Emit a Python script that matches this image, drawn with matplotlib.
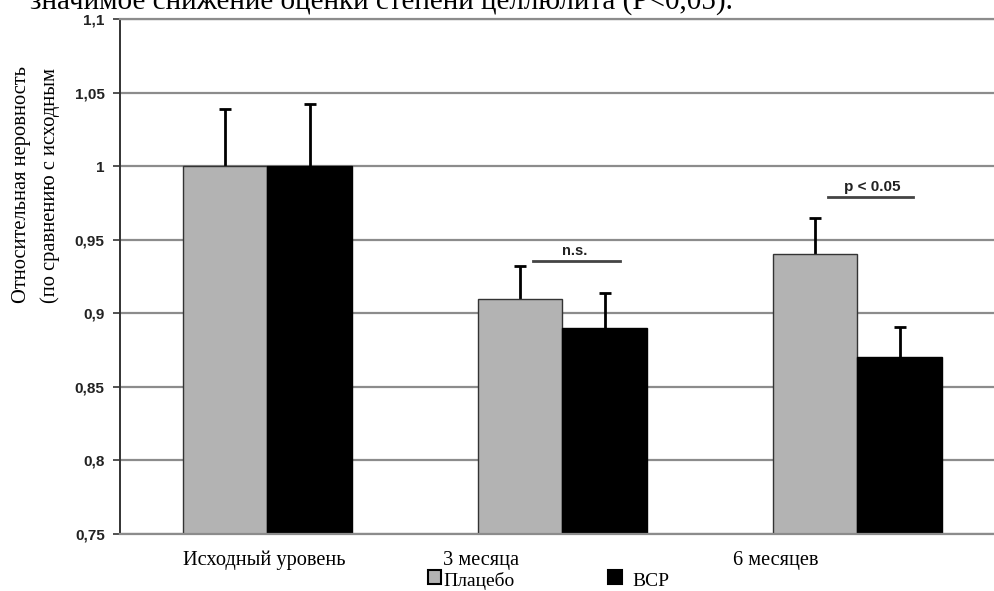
import matplotlib
matplotlib.use('Agg')
import matplotlib.pyplot as plt
from matplotlib.patches import Rectangle
import numpy as np

# Data
categories = ['Исходный уровень', '3 месяца', '6 месяцев']
placebo = [1.0, 0.91, 0.94]
placebo_err = [0.039, 0.022, 0.025]
bcp = [1.0, 0.89, 0.87]
bcp_err = [0.042, 0.024, 0.021]
yticks = [0.75, 0.8, 0.85, 0.9, 0.95, 1.0, 1.05, 1.1]
ytick_labels = ['0,75', '0,8', '0,85', '0,9', '0,95', '1', '1,05', '1,1']

SERIF = ['Liberation Serif', 'DejaVu Serif']
SANS = ['Liberation Sans', 'DejaVu Sans']
GREY = '#b3b3b3'
GRID = '#8c8c8c'

fig = plt.figure(figsize=(9.95, 5.91), dpi=100)
ax = fig.add_axes([120 / 995, 1 - 534 / 591, 885 / 995, 515 / 591])

x = np.arange(len(categories))
w = 0.288

ax.set_ylim(0.75, 1.1)
ax.set_xlim(-0.5, 2.5)
ax.set_yticks(yticks)
ax.set_yticklabels(ytick_labels, family=SANS, fontsize=11, fontweight='bold', color='#222222')
ax.set_xticks([])
ax.yaxis.grid(True, color=GRID, lw=1.6)
ax.set_axisbelow(True)
ax.tick_params(axis='y', direction='out', length=5, width=1.2, color='#333333', pad=6)

for side in ['top', 'right', 'bottom']:
    ax.spines[side].set_color(GRID)
    ax.spines[side].set_linewidth(1.6)
ax.spines['right'].set_visible(False)
ax.spines['left'].set_color('#333333')
ax.spines['left'].set_linewidth(1.4)

ax.bar(x - w / 2, placebo, w, bottom=0, color=GREY, edgecolor='#333333', linewidth=1.0, zorder=2)
ax.bar(x + w / 2, bcp, w, bottom=0, color='black', edgecolor='black', linewidth=1.0, zorder=2)
for off, vals, errs in [(-w / 2, placebo, placebo_err), (w / 2, bcp, bcp_err)]:
    eb = ax.errorbar(x + off, vals, yerr=[np.zeros(3), errs], fmt='none',
                     ecolor='black', elinewidth=2, capsize=4, capthick=2, zorder=1)
    eb[1][0].set_visible(False)  # only the upper cap

# significance marks
ax.plot([0.9, 1.195], [0.9355, 0.9355], color='#444444', lw=2, clip_on=False)
ax.text(1.04, 0.9375, 'n.s.', ha='center', va='bottom', family=SANS, fontsize=10.5,
        fontweight='bold', color='#222222')
ax.plot([1.9, 2.188], [0.979, 0.979], color='#444444', lw=2, clip_on=False)
ax.text(2.05, 0.981, 'p < 0.05', ha='center', va='bottom', family=SANS, fontsize=11,
        fontweight='bold', color='#222222')

# category labels (placed as in the source document)
label_px = [264, 481, 776]
for lab, px in zip(categories, label_px):
    fig.text(px / 995, 1 - 560 / 591, lab, ha='center', va='center', family=SERIF, fontsize=14.7)

# y axis title
fig.text(22 / 995, 1 - 303 / 591, 'Относительная неровность', rotation=90,
         ha='center', va='bottom', family=SERIF, fontsize=14.8)
fig.text(50 / 995, 1 - 303 / 591, '(по сравнению с исходным', rotation=90,
         ha='center', va='bottom', family=SERIF, fontsize=14.8)

# legend
fig.add_artist(Rectangle((428 / 995, 1 - 584 / 591), 13 / 995, 14 / 591,
                         facecolor=GREY, edgecolor='black', lw=1.5, transform=fig.transFigure))
fig.text(443 / 995, 1 - 581 / 591, 'Плацебо', ha='left', va='center', family=SERIF, fontsize=14)
fig.add_artist(Rectangle((608 / 995, 1 - 584 / 591), 14 / 995, 14 / 591,
                         facecolor='black', edgecolor='black', lw=1.5, transform=fig.transFigure))
fig.text(632 / 995, 1 - 581 / 591, 'BCP', ha='left', va='center', family=SERIF, fontsize=14)

# caption cut off at the top of the page
fig.text(30 / 995, 1 - 9 / 591, 'значимое снижение оценки степени целлюлита (Р<0,05).',
         ha='left', va='baseline', family=SERIF, fontsize=21)

fig.savefig('out.png', dpi=100)
plt.close(fig)
